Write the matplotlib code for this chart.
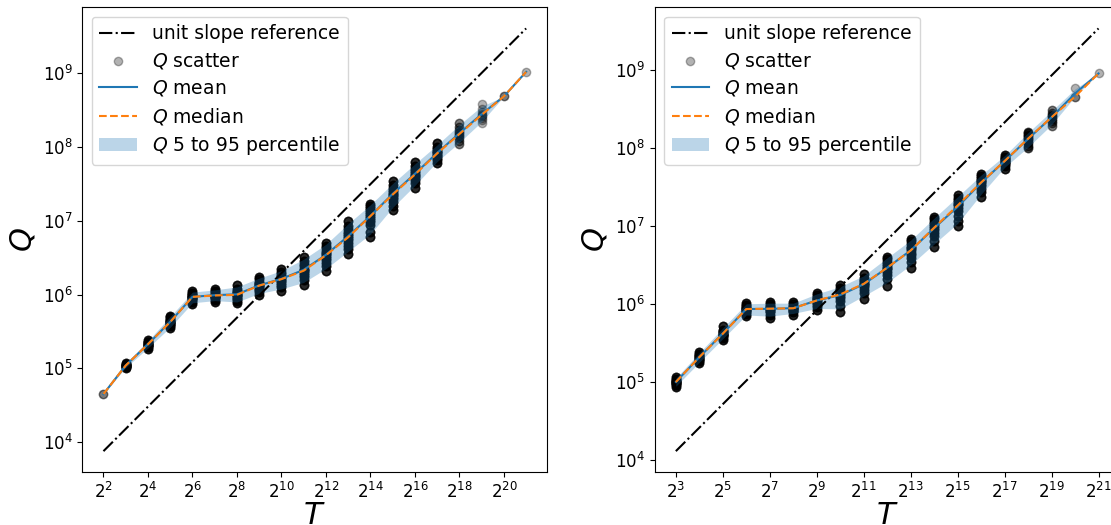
import numpy as np
import matplotlib
matplotlib.use("Agg")
import matplotlib.pyplot as plt
from matplotlib.ticker import NullLocator

# left panel: T = 2^2 .. 2^21
exp_left = list(range(2, 22))
samples_left = [
    [4.5e4],
    [1.02e5, 1.05e5, 1.07e5, 1.09e5, 1.1e5, 1.12e5, 1.15e5, 1.18e5],
    [1.85e5, 1.95e5, 2.0e5, 2.05e5, 2.1e5, 2.15e5, 2.2e5, 2.25e5, 2.3e5, 2.42e5],
    [3.5e5, 3.7e5, 3.9e5, 4.0e5, 4.1e5, 4.2e5, 4.3e5, 4.4e5, 4.5e5, 4.7e5, 4.9e5, 5.2e5],
    [7.4e5, 8.0e5, 8.5e5, 8.8e5, 9.0e5, 9.2e5, 9.4e5, 9.6e5, 9.9e5, 1.02e6, 1.06e6, 1.1e6],
    [8.0e5, 8.5e5, 8.9e5, 9.2e5, 9.4e5, 9.6e5, 9.8e5, 1.0e6, 1.03e6, 1.07e6, 1.12e6, 1.2e6],
    [7.6e5, 8.2e5, 8.7e5, 9.1e5, 9.5e5, 9.8e5, 1.0e6, 1.04e6, 1.08e6, 1.13e6, 1.2e6, 1.35e6],
    [9.8e5, 1.08e6, 1.15e6, 1.2e6, 1.25e6, 1.3e6, 1.34e6, 1.38e6, 1.44e6, 1.5e6, 1.6e6, 1.75e6],
    [1.12e6, 1.25e6, 1.35e6, 1.45e6, 1.52e6, 1.58e6, 1.65e6, 1.72e6, 1.8e6, 1.9e6, 2.02e6, 2.2e6],
    [1.35e6, 1.55e6, 1.7e6, 1.85e6, 1.95e6, 2.05e6, 2.15e6, 2.25e6, 2.4e6, 2.6e6, 2.85e6, 3.2e6],
    [2.05e6, 2.4e6, 2.7e6, 2.9e6, 3.1e6, 3.3e6, 3.5e6, 3.7e6, 3.9e6, 4.2e6, 4.6e6, 5.0e6],
    [3.5e6, 4.1e6, 4.6e6, 5.0e6, 5.4e6, 5.8e6, 6.1e6, 6.5e6, 7.0e6, 7.6e6, 8.5e6, 9.8e6],
    [6.0e6, 7.0e6, 8.7e6, 9.5e6, 1.02e7, 1.08e7, 1.15e7, 1.22e7, 1.3e7, 1.38e7, 1.48e7, 1.6e7, 1.7e7],
    [1.4e7, 1.6e7, 1.8e7, 1.95e7, 2.1e7, 2.2e7, 2.3e7, 2.45e7, 2.6e7, 2.8e7, 3.0e7, 3.4e7],
    [2.8e7, 3.2e7, 3.5e7, 3.8e7, 4.0e7, 4.2e7, 4.4e7, 4.7e7, 5.0e7, 5.4e7, 6.3e7],
    [6.0e7, 6.6e7, 7.0e7, 7.4e7, 7.8e7, 8.1e7, 8.4e7, 8.8e7, 9.3e7, 1.0e8, 1.12e8],
    [1.1e8, 1.2e8, 1.3e8, 1.38e8, 1.45e8, 1.52e8, 1.6e8, 1.7e8, 1.85e8, 2.1e8],
    [2.1e8, 2.3e8, 2.45e8, 2.6e8, 2.7e8, 2.8e8, 2.95e8, 3.2e8, 3.75e8],
    [4.8e8, 4.8e8],
    [1.03e9],
]
# how many overlapping runs each listed value stands for in the scatter
runs_left = [2] + [5] * 15 + [2, 1, 1, 1]
ref_left = 1900.0  # unit slope line: Q = c * T

# right panel: T = 2^3 .. 2^21
exp_right = list(range(3, 22))
samples_right = [
    [8.7e4, 9.2e4, 9.6e4, 9.8e4, 1.0e5, 1.02e5, 1.04e5, 1.07e5, 1.1e5, 1.16e5],
    [1.75e5, 1.88e5, 1.96e5, 2.02e5, 2.08e5, 2.13e5, 2.18e5, 2.24e5, 2.32e5, 2.45e5],
    [3.5e5, 3.75e5, 3.9e5, 4.0e5, 4.1e5, 4.2e5, 4.3e5, 4.4e5, 4.55e5, 4.75e5, 5.2e5],
    [7.0e5, 7.6e5, 8.0e5, 8.3e5, 8.5e5, 8.7e5, 8.9e5, 9.1e5, 9.4e5, 9.8e5, 1.05e6],
    [6.7e5, 7.4e5, 7.9e5, 8.3e5, 8.6e5, 8.8e5, 9.0e5, 9.3e5, 9.6e5, 1.0e6, 1.07e6],
    [7.4e5, 7.9e5, 8.2e5, 8.5e5, 8.7e5, 8.9e5, 9.1e5, 9.3e5, 9.6e5, 1.0e6, 1.07e6],
    [8.4e5, 9.3e5, 9.9e5, 1.04e6, 1.08e6, 1.12e6, 1.16e6, 1.2e6, 1.25e6, 1.32e6, 1.4e6],
    [8.0e5, 9.5e5, 1.1e6, 1.2e6, 1.28e6, 1.34e6, 1.4e6, 1.46e6, 1.53e6, 1.62e6, 1.75e6],
    [1.18e6, 1.38e6, 1.52e6, 1.65e6, 1.75e6, 1.83e6, 1.9e6, 1.98e6, 2.08e6, 2.2e6, 2.45e6],
    [1.7e6, 2.1e6, 2.4e6, 2.6e6, 2.8e6, 2.95e6, 3.1e6, 3.3e6, 3.5e6, 3.8e6, 4.1e6],
    [2.9e6, 3.5e6, 3.9e6, 4.3e6, 4.6e6, 4.9e6, 5.2e6, 5.5e6, 5.9e6, 6.4e6, 6.9e6],
    [5.4e6, 6.5e6, 7.5e6, 8.3e6, 9.0e6, 9.6e6, 1.02e7, 1.08e7, 1.15e7, 1.23e7, 1.32e7],
    [1.0e7, 1.18e7, 1.35e7, 1.55e7, 1.7e7, 1.85e7, 1.95e7, 2.05e7, 2.15e7, 2.3e7, 2.5e7],
    [2.4e7, 2.75e7, 3.05e7, 3.3e7, 3.5e7, 3.65e7, 3.8e7, 3.95e7, 4.15e7, 4.4e7, 4.7e7],
    [5.5e7, 5.9e7, 6.2e7, 6.5e7, 6.7e7, 6.85e7, 7.0e7, 7.2e7, 7.5e7, 7.8e7, 8.3e7],
    [1.0e8, 1.08e8, 1.16e8, 1.24e8, 1.3e8, 1.36e8, 1.42e8, 1.48e8, 1.55e8, 1.62e8],
    [1.95e8, 2.1e8, 2.25e8, 2.4e8, 2.5e8, 2.6e8, 2.7e8, 2.85e8, 3.1e8],
    [4.6e8, 4.6e8, 5.9e8],
    [9.1e8],
]
runs_right = [5] * 15 + [3, 2, 1, 1]
ref_right = 1640.0


def draw(ax, exps, samples, runs, c, tick_exps):
    T = 2.0 ** np.array(exps)
    mean = np.array([np.mean(s) for s in samples])
    median = np.array([np.median(s) for s in samples])
    lo = np.array([np.percentile(s, 5) for s in samples])
    hi = np.array([np.percentile(s, 95) for s in samples])

    ax.plot(T, c * T, 'k-.', label='unit slope reference')
    xs = np.concatenate([[t] * (len(s) * r) for t, s, r in zip(T, samples, runs)])
    ys = np.concatenate([np.repeat(s, r) for s, r in zip(samples, runs)])
    ax.scatter(xs, ys, color='k', alpha=0.3, label='$Q$ scatter')
    ax.plot(T, mean, color='tab:blue', label='$Q$ mean')
    ax.plot(T, median, '--', color='tab:orange', label='$Q$ median')
    ax.fill_between(T, lo, hi, color='tab:blue', alpha=0.3, linewidth=0,
                    label='$Q$ 5 to 95 percentile')

    ax.set_xscale('log', base=2)
    ax.set_yscale('log')
    ax.set_xticks(2.0 ** np.array(tick_exps))
    ax.xaxis.set_minor_locator(NullLocator())
    ax.yaxis.set_minor_locator(NullLocator())
    ax.tick_params(labelsize=12)
    ax.set_xlabel('$T$', fontsize=22, labelpad=-1)
    ax.set_ylabel('$Q$', fontsize=22)
    ax.legend(loc='upper left', fontsize=13.5, labelspacing=0.4)


fig = plt.figure(figsize=(11.11, 5.25), dpi=100)
ax1 = fig.add_axes([0.0741, 0.1004, 0.4185, 0.8857])
ax2 = fig.add_axes([0.5893, 0.1004, 0.4185, 0.8857])

draw(ax1, exp_left, samples_left, runs_left, ref_left, range(2, 21, 2))
draw(ax2, exp_right, samples_right, runs_right, ref_right, range(3, 22, 2))

fig.savefig('out.png', dpi=100)
